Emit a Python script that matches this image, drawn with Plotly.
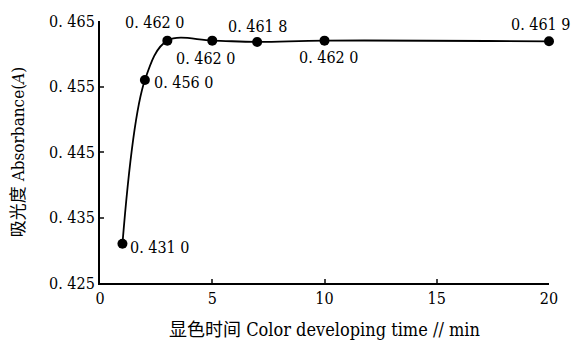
import plotly.graph_objects as go

times = [1, 2, 3, 5, 7, 10, 20]
absorbance = [0.4310, 0.4560, 0.4620, 0.4620, 0.4618, 0.4620, 0.4619]
point_labels = ["0. 431 0", "0. 456 0", "0. 462 0", "0. 462 0", "0. 461 8", "0. 462 0", "0. 461 9"]
x_ticks = [0, 5, 10, 15, 20]
y_ticks = [0.425, 0.435, 0.445, 0.455, 0.465]
y_tick_text = ["0. 425", "0. 435", "0. 445", "0. 455", "0. 465"]

FONT = "DejaVu Serif Condensed"
CJK = "Noto Sans CJK SC"
FS = 16

fig = go.Figure()
fig.add_trace(go.Scatter(
    x=times, y=absorbance, mode="lines+markers",
    line=dict(color="black", width=1.8, shape="spline", smoothing=1.0),
    marker=dict(color="black", size=10),
    cliponaxis=False, showlegend=False,
))

# label offsets (style only)
offsets = [(6, -4, "left"), (7, -3, "left"), (-12, 18, "center"), (-6, -18, "center"),
           (1, 15, "center"), (4, -17, "center"), (-8, 17, "center")]
for xv, yv, lab, (dx, dy, anc) in zip(times, absorbance, point_labels, offsets):
    fig.add_annotation(x=xv, y=yv, text=lab, showarrow=False, xanchor=anc, yanchor="middle",
                       xshift=dx, yshift=dy, font=dict(family=FONT, size=FS, color="black"))

fig.update_layout(
    width=578, height=342,
    margin=dict(l=100, r=29, t=19, b=59),
    paper_bgcolor="white", plot_bgcolor="white",
    font=dict(family=FONT, size=FS, color="black"),
)
fig.update_xaxes(
    range=[0, 20], tickvals=x_ticks, ticks="inside", ticklen=4, tickwidth=1.5,
    tickfont=dict(family=FONT, size=FS), automargin=False,
    showline=True, linecolor="black", linewidth=2, showgrid=False, zeroline=False,
    title=dict(text=f"<span style='font-family:{CJK}'>显色时间</span> Color developing time // min",
               standoff=16, font=dict(family=FONT, size=18)),
)
fig.update_yaxes(
    range=[0.425, 0.465], tickvals=y_ticks, ticktext=y_tick_text, ticks="inside", ticklen=4,
    tickwidth=1.5, tickfont=dict(family=FONT, size=FS),
    showline=True, linecolor="black", linewidth=2, showgrid=False, zeroline=False,
    title=dict(text=f"<span style='font-family:{CJK}'>吸光度</span> Absorbance(<i>A</i>)",
               standoff=20, font=dict(family=FONT, size=17)),
)

fig.write_html("out.html", config={"displayModeBar": False},
               post_script="document.body.style.margin='0';")
